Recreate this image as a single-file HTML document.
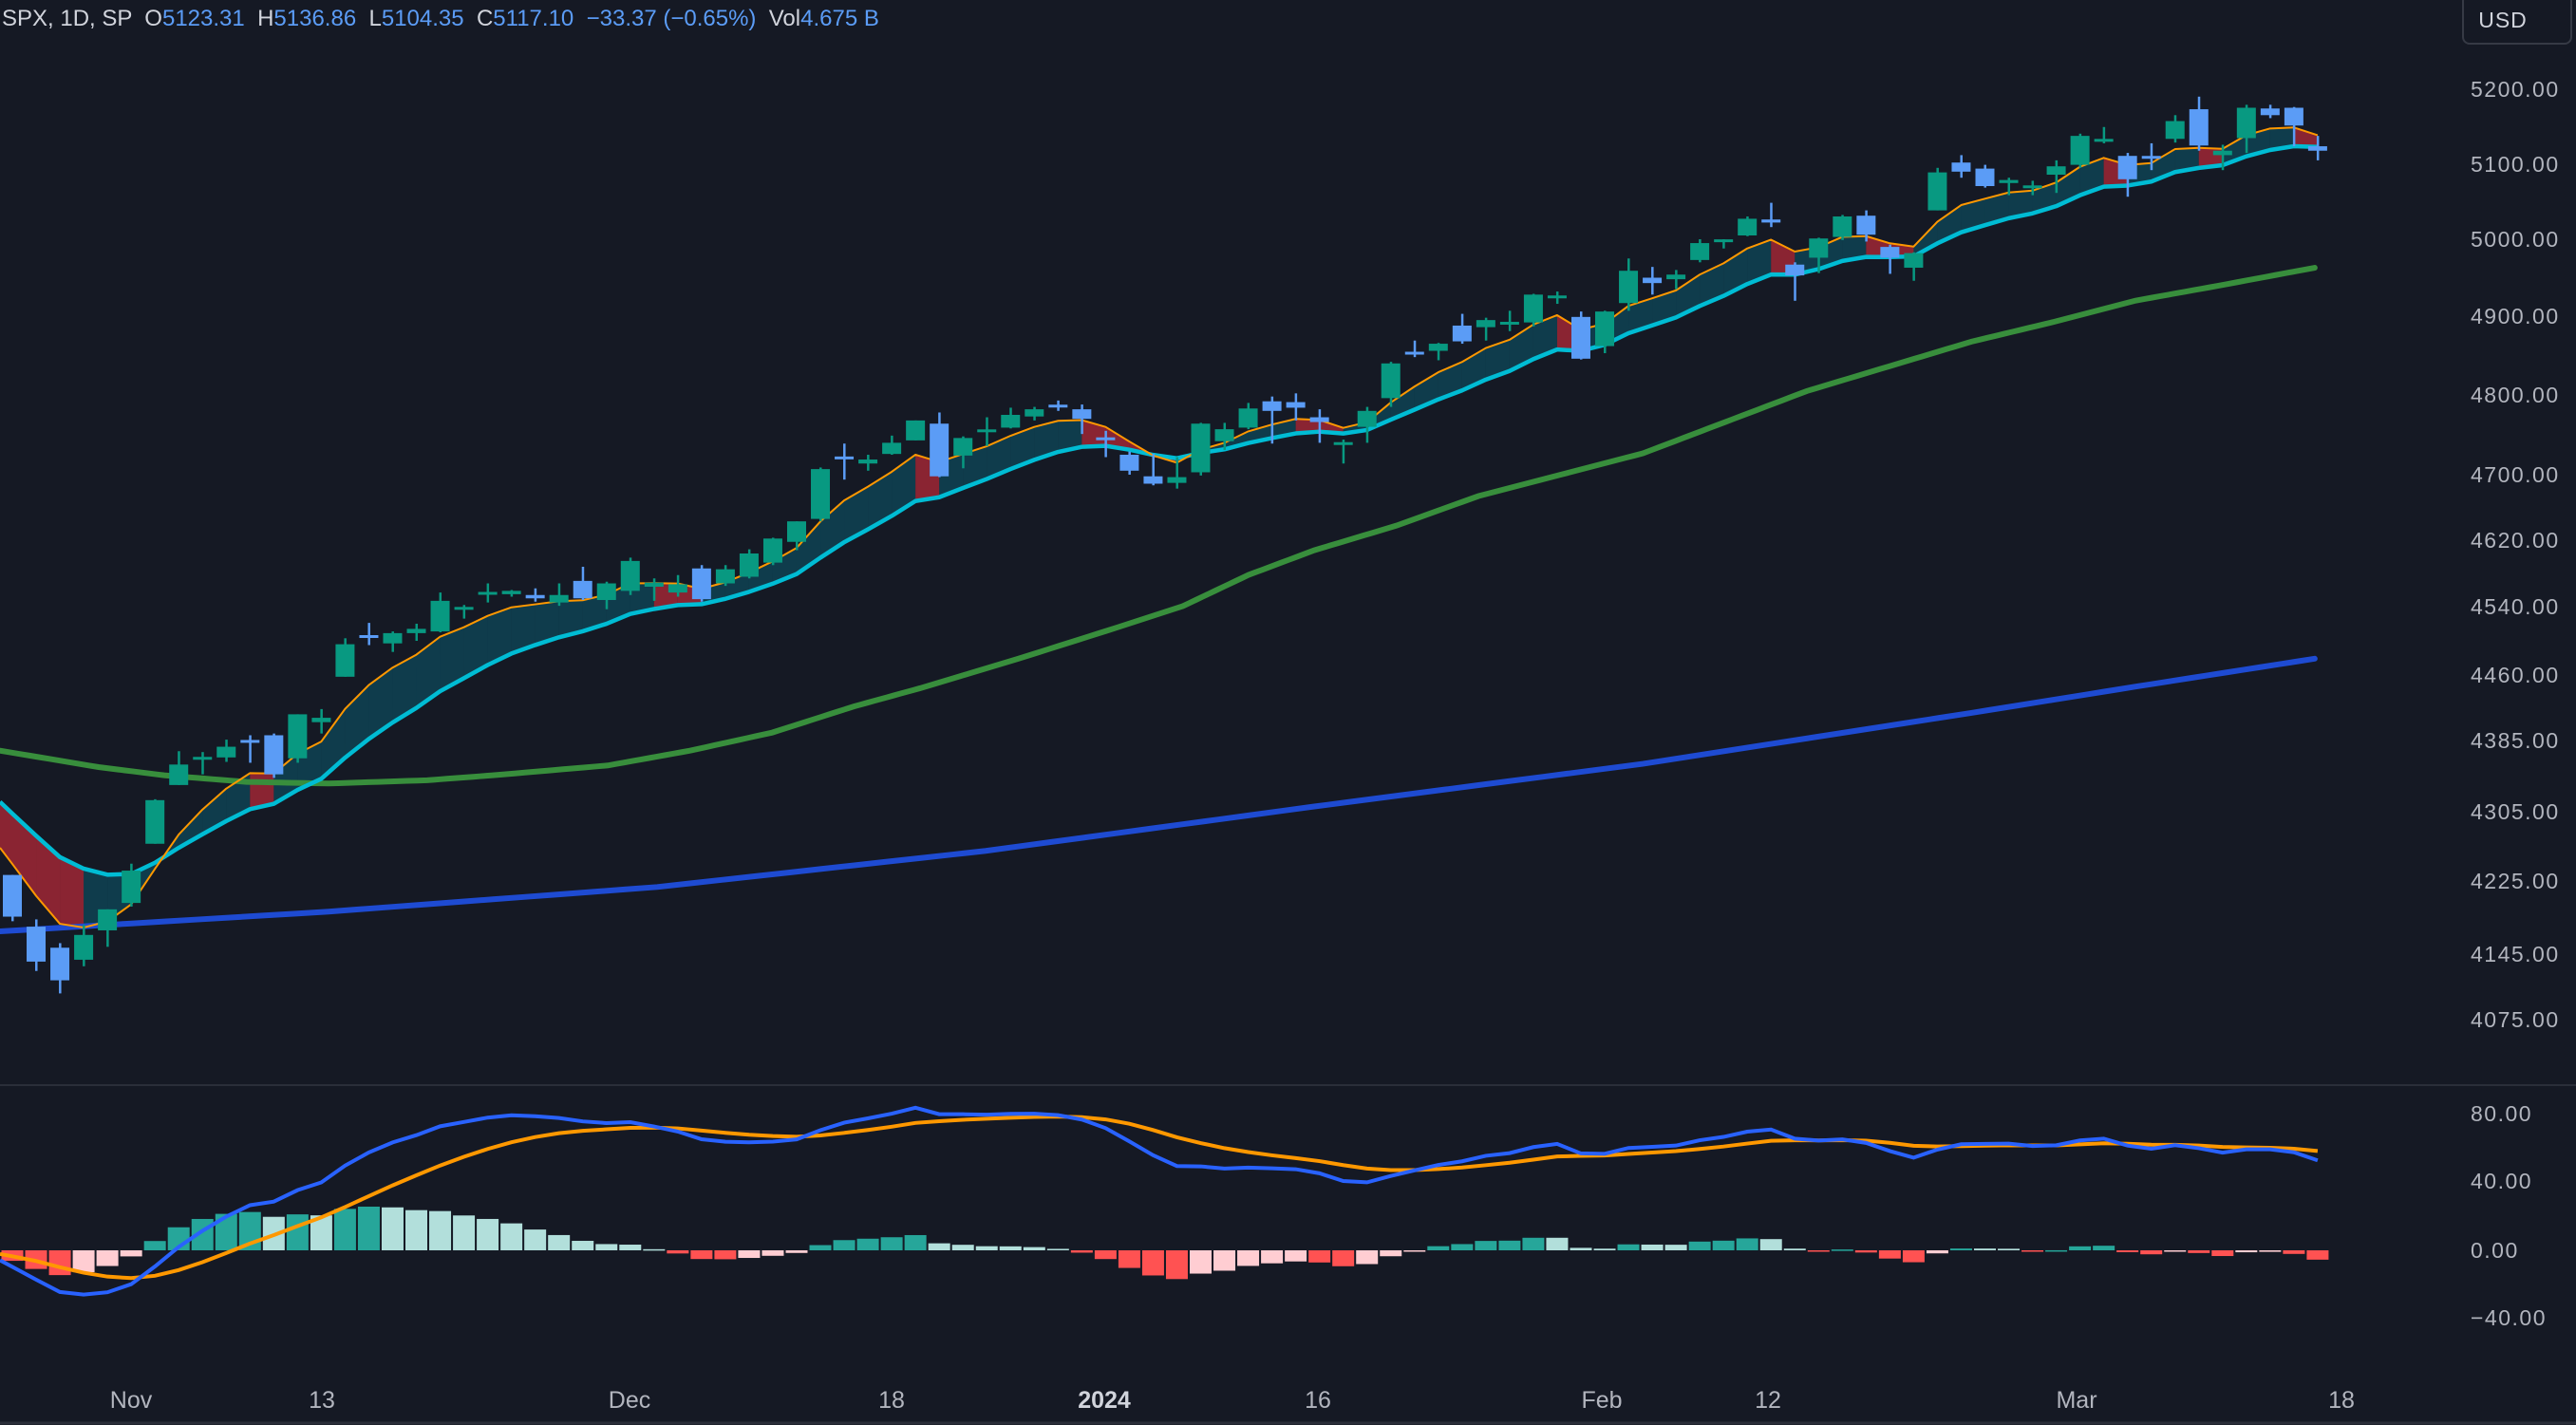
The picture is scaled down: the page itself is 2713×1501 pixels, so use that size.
<!DOCTYPE html>
<html><head><meta charset="utf-8">
<style>
html,body{margin:0;padding:0;background:#151924;}
body{width:2713px;height:1501px;overflow:hidden;position:relative;font-family:"Liberation Sans",sans-serif;}
svg{position:absolute;left:0;top:0;}
.t{font-family:"Liberation Sans",sans-serif;}
</style></head><body>
<svg id="s" width="2713" height="1501" xmlns="http://www.w3.org/2000/svg">
<rect width="2713" height="1501" fill="#151924"/>
<defs><clipPath id="cp"><rect x="0" y="0" width="2590" height="1142"/></clipPath>
<clipPath id="cm"><rect x="0" y="1144" width="2590" height="300"/></clipPath></defs>
<g id="price" clip-path="url(#cp)"></g>
<g id="macd" clip-path="url(#cm)"></g>
<line x1="0" y1="1143" x2="2713" y2="1143" stroke="#2a2e39" stroke-width="2"/>
<line x1="0" y1="1499" x2="2713" y2="1499" stroke="#2a2e39" stroke-width="3"/>
<text x="2" y="27" class="t" font-size="24" fill="#d1d4dc">SPX, 1D, SP <tspan fill="#d1d4dc">&#160;O</tspan><tspan fill="#5b9cf6">5123.31</tspan><tspan fill="#d1d4dc">&#160;&#160;H</tspan><tspan fill="#5b9cf6">5136.86</tspan><tspan fill="#d1d4dc">&#160;&#160;L</tspan><tspan fill="#5b9cf6">5104.35</tspan><tspan fill="#d1d4dc">&#160;&#160;C</tspan><tspan fill="#5b9cf6">5117.10&#160;&#160;−33.37 (−0.65%)</tspan><tspan fill="#d1d4dc">&#160;&#160;Vol</tspan><tspan fill="#5b9cf6">4.675 B</tspan></text>
<rect x="2594" y="-6" width="114" height="52" rx="7" fill="#151924" stroke="#363a45" stroke-width="2"/>
<text x="2636" y="29" class="t" font-size="23" fill="#d1d4dc" text-anchor="middle" letter-spacing="1">USD</text>
<g class="t" font-size="23" fill="#b2b5be" letter-spacing="1.5">
<text x="2602" y="102">5200.00</text>
<text x="2602" y="181">5100.00</text>
<text x="2602" y="260">5000.00</text>
<text x="2602" y="341">4900.00</text>
<text x="2602" y="424">4800.00</text>
<text x="2602" y="508">4700.00</text>
<text x="2602" y="577">4620.00</text>
<text x="2602" y="647">4540.00</text>
<text x="2602" y="719">4460.00</text>
<text x="2602" y="788">4385.00</text>
<text x="2602" y="863">4305.00</text>
<text x="2602" y="936">4225.00</text>
<text x="2602" y="1013">4145.00</text>
<text x="2602" y="1082">4075.00</text>
<text x="2602" y="1147" clip-path="url(#cp)">4011.00</text>
<text x="2602" y="1181">80.00</text>
<text x="2602" y="1252">40.00</text>
<text x="2602" y="1325">0.00</text>
<text x="2602" y="1396">−40.00</text>
</g>
<g class="t" font-size="25" fill="#b2b5be" text-anchor="middle">
<text x="138" y="1483">Nov</text>
<text x="339" y="1483">13</text>
<text x="663" y="1483">Dec</text>
<text x="939" y="1483">18</text>
<text x="1163" y="1483" font-weight="bold" fill="#d1d4dc">2024</text>
<text x="1388" y="1483">16</text>
<text x="1687" y="1483">Feb</text>
<text x="1862" y="1483">12</text>
<text x="2187" y="1483">Mar</text>
<text x="2466" y="1483">18</text>
</g>
</svg>
<script>
var D=[[4232,4232,4181,4186],[4175,4183,4127,4137],[4152,4157,4103,4117],[4139,4177,4132,4166],[4171,4194,4153,4194],
[4201,4245,4197,4237],[4268,4319,4268,4318],[4335,4373,4335,4358],[4365,4372,4347,4365],[4366,4386,4361,4378],[4384,4391,4360,4383],[4391,4393,4343,4347],[4365,4415,4360,4415],
[4406,4421,4393,4411],[4458,4503,4458,4496],[4505,4521,4495,4503],[4497,4511,4487,4509],[4509,4520,4500,4514],[4511,4557,4510,4547],[4538,4542,4526,4538],[4553,4568,4545,4556],[4555,4560,4552,4559],[4554,4562,4546,4550],[4545,4568,4541,4554],[4571,4588,4548,4550],[4548,4570,4537,4568],
[4559,4599,4554,4595],[4564,4574,4547,4569],[4557,4578,4552,4567],[4586,4590,4546,4549],[4568,4590,4565,4585],[4576,4609,4574,4604],[4593,4623,4590,4622],[4618,4643,4608,4643],[4646,4709,4643,4707],[4721,4739,4694,4720],[4714,4725,4705,4719],[4726,4749,4725,4740],[4743,4768,4743,4768],[4764,4778,4697,4698],[4724,4748,4708,4746],[4753,4772,4736,4755],[4759,4784,4758,4775],[4773,4785,4768,4782],[4786,4793,4780,4783],[4782,4788,4751,4770],
[4745,4755,4722,4743],[4725,4729,4700,4705],[4698,4726,4687,4689],[4690,4722,4683,4697],[4703,4765,4699,4764],[4742,4765,4731,4757],[4759,4790,4757,4783],[4792,4798,4739,4780],[4791,4802,4768,4784],[4772,4782,4740,4766],[4739,4744,4714,4739],[4760,4785,4740,4780],[4796,4842,4785,4840],[4853,4869,4848,4851],[4856,4866,4844,4865],[4888,4903,4865,4868],[4886,4898,4869,4895],[4888,4907,4881,4891],[4892,4929,4887,4928],[4925,4932,4916,4925],[4899,4906,4845,4846],
[4862,4907,4853,4906],[4917,4975,4907,4959],[4950,4964,4928,4943],[4948,4960,4935,4954],[4973,5000,4970,4995],[4997,5000,4988,4998],[5005,5030,5004,5027],[5026,5048,5016,5022],[4967,4970,4920,4953],[4976,5002,4956,5001],[5003,5032,4999,5030],[5031,5038,4997,5006],[4990,4993,4955,4976],[4963,4983,4946,4982],[5038,5094,5038,5088],[5101,5111,5081,5089],[5093,5098,5068,5070],[5074,5081,5058,5078],[5067,5077,5058,5069],[5085,5104,5061,5096],
[5098,5140,5094,5137],[5131,5149,5127,5131],[5110,5114,5056,5079],[5108,5127,5091,5105],[5133,5165,5128,5157],[5173,5190,5117,5124],[5111,5125,5091,5117],[5134,5179,5114,5175],[5174,5179,5161,5165],[5175,5176,5123,5151],[5123,5137,5104,5117]];
var T=[[5300,16],[5200,94],[5100,172],[5000,252],[4900,333],[4800,416],[4700,500],[4620,569],[4540,639],[4460,711],[4385,780],[4305,855],[4225,928],[4145,1005],[4075,1074],[4011,1139],[3900,1255]];
function Y(p){for(var i=0;i<T.length-1;i++){var a=T[i],b=T[i+1];if(p<=a[0]&&p>=b[0]||i==T.length-2){return a[1]+(p-a[0])*(b[1]-a[1])/(b[0]-a[0]);}}return T[0][1];}
function X(i){return 13+25.03*i;}
var NS="http://www.w3.org/2000/svg";
function el(g,t,a){var e=document.createElementNS(NS,t);for(var k in a)e.setAttribute(k,a[k]);g.appendChild(e);return e;}
var gp=document.getElementById('price'),gm=document.getElementById('macd');
function ema(n,seed){var k=2/(n+1),v=seed,out=[];D.forEach(function(d){v=d[3]*k+v*(1-k);out.push(v);});return out;}
var eo=ema(5,4274),ec=ema(12,4324);
var xs=D.map(function(d,i){return X(i);});
var o0=eo[0]+(eo[0]-eo[1])*0.52,c0=ec[0]+(ec[0]-ec[1])*0.52;
var EX=[0].concat(xs),EO=[o0].concat(eo),EC=[c0].concat(ec);
for(var i=0;i<EX.length-1;i++){
 var red=EO[i+1]<EO[i];
 var pts=[EX[i],Y(EO[i]),EX[i+1],Y(EO[i+1]),EX[i+1],Y(EC[i+1]),EX[i],Y(EC[i])].join(',');
 el(gp,'polygon',{points:pts,fill:red?'rgba(178,40,55,0.75)':'rgba(0,150,180,0.28)'});
}
function path(pts){return 'M'+pts.map(function(p){return p[0]+','+p[1];}).join(' L');}
var s=1.7302;
var gpts=[[0,457],[60,467],[100,472],[150,476],[200,477],[260,475],[300,472],[370,466],[420,457],[470,446],[520,430],[560,419],[620,401],[680,382],[720,369],[760,350],[800,335],[850,320],[900,302],[950,289],[1000,276],[1050,257],[1100,238],[1150,223],[1200,208],[1250,196],[1300,183],[1350,174],[1409,163]];
var bpts=[[0,567],[200,555],[400,540],[600,518],[800,491],[1000,465],[1200,434],[1300,418],[1409,401]];
function sm(p){var r=[];for(var i=0;i<p.length-1;i++){for(var t=0;t<10;t++){var u=t/10;r.push([(p[i][0]+(p[i+1][0]-p[i][0])*u)*s,(p[i][1]+(p[i+1][1]-p[i][1])*u)*s]);}}r.push([p[p.length-1][0]*s,p[p.length-1][1]*s]);return r;}
el(gp,'path',{d:path(sm(bpts)),stroke:'#1e4bd2',"stroke-width":6,fill:'none',"stroke-linecap":'round'});
el(gp,'path',{d:path(sm(gpts)),stroke:'#388e3c',"stroke-width":6,fill:'none',"stroke-linecap":'round'});
el(gp,'path',{d:path(EC.map(function(v,i){return [EX[i],Y(v)];})),stroke:'#00bcd4',"stroke-width":4.5,fill:'none',"stroke-linejoin":'round'});
el(gp,'path',{d:path(EO.map(function(v,i){return [EX[i],Y(v)];})),stroke:'#ff9800',"stroke-width":2,fill:'none',"stroke-linejoin":'round'});
D.forEach(function(d,i){var up=d[3]>=d[0];var c=up?'#089981':'#5b9cf6';var x=X(i);
 el(gp,'rect',{x:x-1,y:Y(d[1]),width:2.5,height:Y(d[2])-Y(d[1]),fill:c});
 var t=Y(Math.max(d[0],d[3])),b=Y(Math.min(d[0],d[3]));if(b-t<3){t-=1.5;b=t+3;}
 el(gp,'rect',{x:x-10,y:t,width:20,height:b-t,fill:c});
});
var k12=2/13,k26=2/27,k9=0.2,e12=4250,e26=4255,sg=-2,M=[],S=[];
D.forEach(function(d){var c=d[3];e12=c*k12+e12*(1-k12);e26=c*k26+e26*(1-k26);var m=e12-e26;sg=m*k9+sg*(1-k9);M.push(m);S.push(sg);});
function MY(v){return 1317-v*1.79;}
var prev=null;
M.forEach(function(m,i){var h=m-S[i];var c;if(h>=0)c=(prev!==null&&h<prev)?'#b2dfdb':'#26a69a';else c=(prev!==null&&h>prev)?'#ffcdd2':'#ff5252';prev=h;
 var y0=MY(0),y1=MY(h);el(gm,'rect',{x:X(i)-11.5,y:Math.min(y0,y1),width:23,height:Math.max(1.5,Math.abs(y1-y0)),fill:c});});
var mx=[0].concat(xs),SM=[S[0]+(S[0]-S[1])*0.52].concat(S),MM=[M[0]+(M[0]-M[1])*0.52].concat(M);
el(gm,'path',{d:path(SM.map(function(v,i){return [mx[i],MY(v)];})),stroke:'#ff9800',"stroke-width":4,fill:'none'});
el(gm,'path',{d:path(MM.map(function(v,i){return [mx[i],MY(v)];})),stroke:'#2962ff',"stroke-width":4,fill:'none'});
</script>
</body></html>
